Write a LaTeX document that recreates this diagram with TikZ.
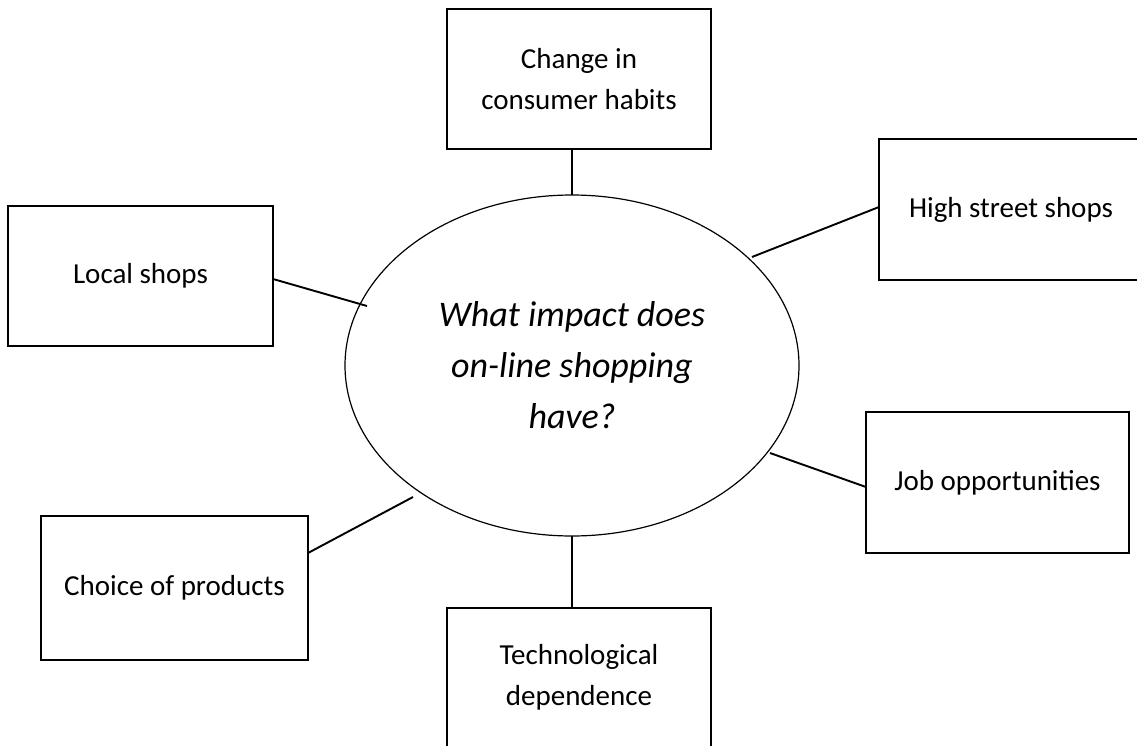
\documentclass[tikz,border=0pt]{standalone}
\usepackage{fontspec}
\setmainfont{Carlito}
\usetikzlibrary{shapes.geometric}
\begin{document}
\begin{tikzpicture}[x=1pt,y=-1pt,
  box/.style={draw,line width=1.4pt,minimum width=264pt,minimum height=140pt,inner sep=0pt,outer sep=0pt,align=center,font=\fontsize{29}{41}\selectfont},
  lbl/.style={inner sep=0pt,align=center,font=\fontsize{29}{41}\selectfont},
  link/.style={line width=1.9pt},
  hub/.style={draw,ellipse,line width=1.2pt,minimum width=454pt,minimum height=341pt,inner sep=0pt,outer sep=0pt,align=center,font=\fontsize{36}{51}\selectfont\itshape}]
\useasboundingbox (0,0) rectangle (1137,746);
\clip (0,0) rectangle (1137,746);
\fill[white] (0,0) rectangle (1137,746);
\node[hub] (q) at (572,365.5) {What impact does\\on-line shopping\\have?};
\node[box] (top) at (579,79) {Change in\\consumer habits};
\node[box,minimum height=141pt] (hs) at (1011,209.5) {High street shops};
\node[box,minimum width=265pt] (local) at (140.5,276) {Local shops};
\node[box,minimum width=263pt,minimum height=141pt] (job) at (997.5,482.5) {Job opportunities};
\node[box,minimum width=267pt,minimum height=144pt] (choice) at (174.5,588) {Choice of products};
\node[box,minimum height=170pt] (tech) at (579,693) {};
\node[lbl] (techlbl) at (579,677) {Technological\\dependence};
\coordinate (qL) at (367,306);
\coordinate (qHS) at (752,257);
\coordinate (qJ) at (770,453);
\coordinate (qC) at (413,497);
\draw[link] ([yshift=-3pt]local.east) -- (qL);
\draw[link] ([yshift=2.5pt]hs.west) -- (qHS);
\draw[link] ([yshift=-4.5pt]job.west) -- (qJ);
\draw[link] ([yshift=35pt]choice.east) -- (qC);
\draw[link] (top.south -| q.north) -- (q.north);
\draw[link] (q.south) -- (tech.north -| q.south);
\end{tikzpicture}
\end{document}
